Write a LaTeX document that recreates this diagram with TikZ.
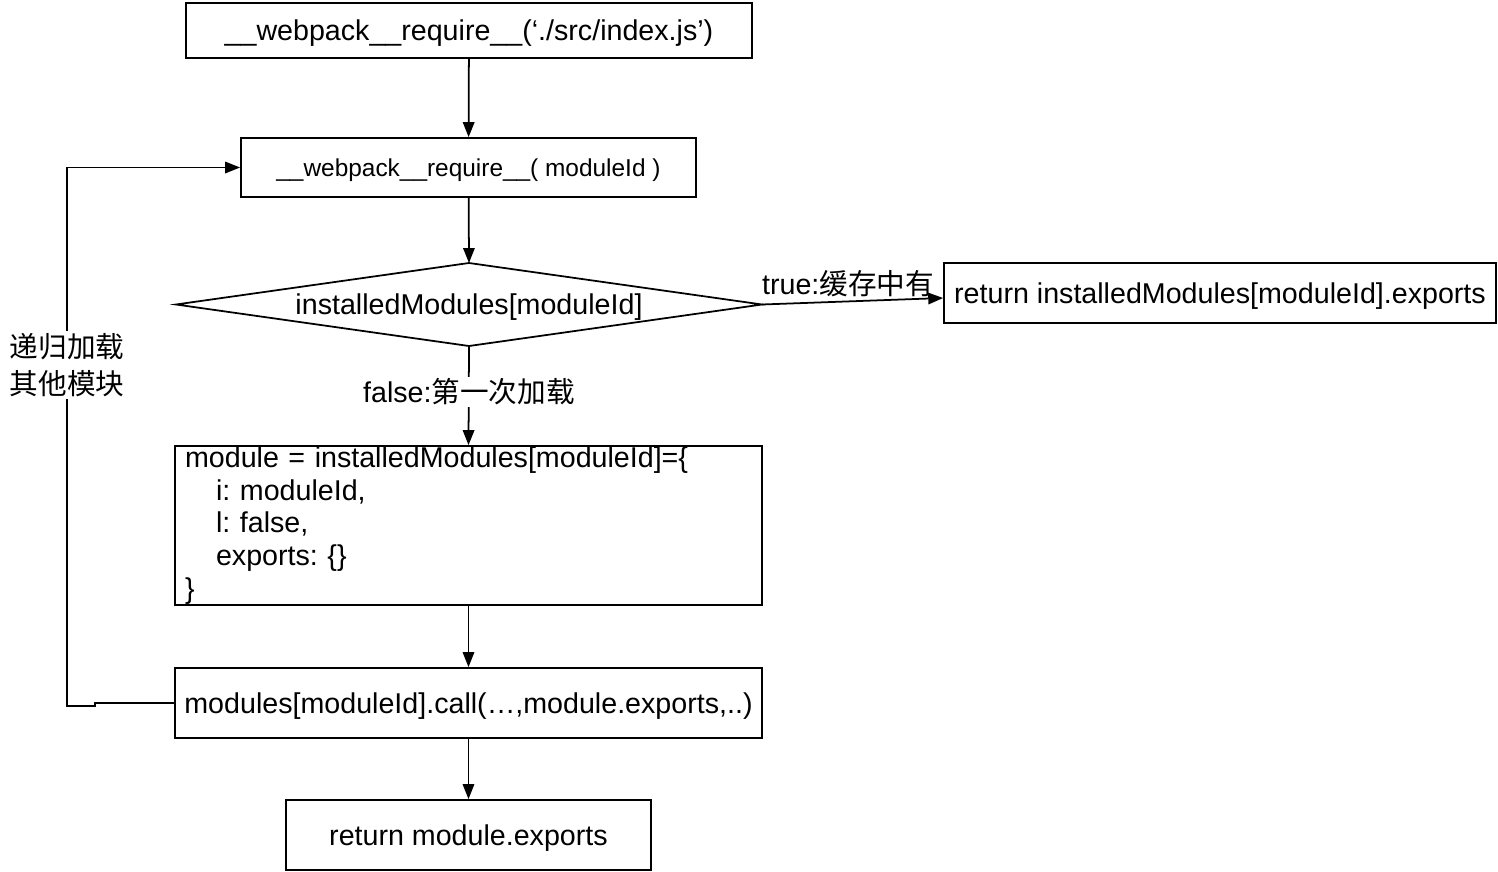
\documentclass[tikz,border=0pt]{standalone}
\usepackage{fontspec}
\setmainfont{Liberation Sans}
\newfontfamily\cjk{Noto Sans CJK SC}
\frenchspacing
\usepackage{tikz}
\usetikzlibrary{arrows.meta}
\tikzset{
	box/.style={draw, line width=1pt, inner sep=0pt, font=\fontsize{16.3}{18.7}\selectfont},
	oneline/.style={text depth=0pt},
	flow/.style={draw, line width=1pt, -{Triangle[length=8.5pt, width=6.5pt]}},
	lbl/.style={font=\fontsize{16.3}{21.5}\selectfont, inner sep=1pt}
}

\begin{document}
\begin{tikzpicture}[x=0.02cm, y=-0.02cm]
		%%%%% START %%%%%
		\useasboundingbox (0, 0) rectangle (1498, 872);
		
		\node[box, oneline, minimum width=11.32cm, minimum height=1.10cm] (entry) at (469, 30.5) {\_\_webpack\_\_require\_\_(‘./src/index.js’)};
		\node[box, oneline, minimum width=9.10cm, minimum height=1.18cm, font=\fontsize{13.9}{16}\selectfont] (req) at (468.5, 167.5) {\_\_webpack\_\_require\_\_( moduleId )};
		
		% decision
		\node[box, oneline, draw=none] (cache) at (469, 304.5) {installedModules[moduleId]};
		\coordinate (cacheN) at (469, 263);
		\coordinate (cacheE) at (762, 304.5);
		\coordinate (cacheS) at (469, 346);
		\coordinate (cacheW) at (176, 304.5);
		\draw[line width=1pt] (cacheN) -- (cacheE) -- (cacheS) -- (cacheW) -- cycle;
		
		\node[box, oneline, minimum width=11.04cm, minimum height=1.20cm] (cached) at (1220, 293) {return installedModules[moduleId].exports};
		\node[box, minimum width=11.74cm, minimum height=3.18cm, text width=11.34cm, align=left, inner xsep=0.2cm] (init) at (468.5, 525.5) {module = installedModules[moduleId]=\{\\
			\hspace*{0.62cm}i: moduleId,\\
			\hspace*{0.62cm}l: false,\\
			\hspace*{0.62cm}exports: \{\}\\
			\}};
		\node[box, oneline, minimum width=11.74cm, minimum height=1.40cm] (call) at (468.5, 703) {modules[moduleId].call(…,module.exports,..)};
		\node[box, oneline, minimum width=7.30cm, minimum height=1.40cm] (ret) at (468.5, 835) {return module.exports};
		
		\draw[flow] (entry) -- (req);
		\draw[flow] (req) -- (cacheN);
		\draw[flow] (cacheS) -- (init.north);
		\node[lbl, fill=white] (miss) at (469, 392) {false:{\cjk 第一次加载}};
		\draw[flow] (cacheE) -- ([yshift=-0.1cm]cached.west);
		\node[lbl] (hit) at (848, 284) {true:{\cjk 缓存中有}};
		\draw[flow] (init) -- (call);
		\draw[flow] (call) -- (ret);
		
		% recursion back to require
		\coordinate (jog) at (95, 703);
		\coordinate (corner) at (67, 706);
		\draw[flow] (call.west) -- (jog) -- ++(0, 3) -- (corner) -- (corner |- req.west) -- (req.west);
		\node[lbl, fill=white, align=center] (recur) at (67, 365) {\cjk 递归加载\\\cjk 其他模块};
		
		%%%%% END %%%%%
	\end{tikzpicture}
\end{document}
